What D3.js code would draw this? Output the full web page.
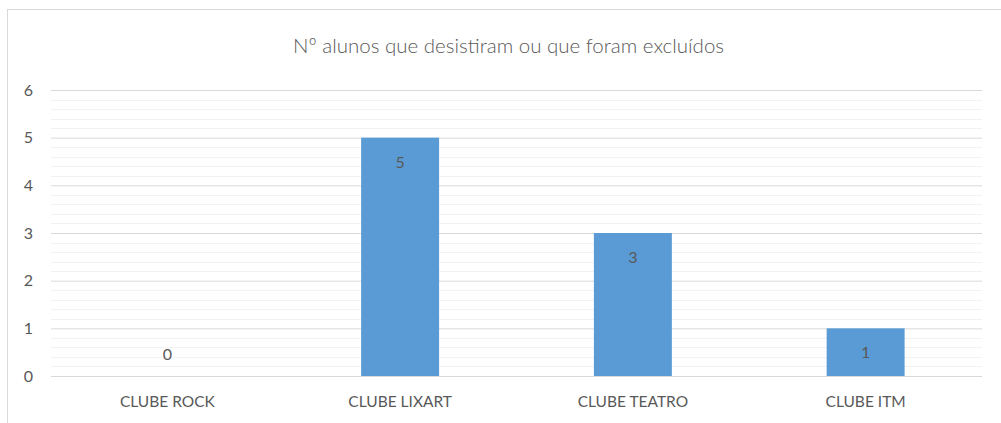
<!DOCTYPE html>
<html>
<head>
<meta charset="utf-8">
<script src="https://cdn.jsdelivr.net/npm/d3@7"></script>
<style>
  html, body { margin: 0; padding: 0; background: #fff; }
  svg text { font-family: Lato, "Open Sans", sans-serif; fill: #595959; }
</style>
</head>
<body>
<svg id="chart" width="1001" height="423"></svg>
<script>
const title = "Nº alunos que desistiram ou que foram excluídos";
const categories = ["CLUBE ROCK", "CLUBE LIXART", "CLUBE TEATRO", "CLUBE ITM"];
const values = [0, 5, 3, 1];
const yTicks = [0, 1, 2, 3, 4, 5, 6];

const width = 1001, height = 423;
const margin = { top: 90, right: 19, bottom: 47, left: 51 };

const svg = d3.select("#chart");

// outer chart border
svg.append("rect")
  .attr("x", 7.5).attr("y", 9.5)
  .attr("width", width).attr("height", height)
  .attr("fill", "none")
  .attr("stroke", "#d9d9d9");

const x = d3.scaleBand()
  .domain(categories)
  .range([margin.left, width - margin.right])
  .paddingInner(0.665)
  .paddingOuter(0.3325);

const y = d3.scaleLinear()
  .domain([0, 6])
  .range([height - margin.bottom, margin.top]);

// minor gridlines
const minor = d3.range(0, 6.001, 0.2).filter(v => Math.abs(v - Math.round(v)) > 1e-6);
svg.append("g")
  .selectAll("line")
  .data(minor)
  .join("line")
  .attr("x1", margin.left).attr("x2", width - margin.right)
  .attr("y1", d => Math.round(y(d)) + 0.5).attr("y2", d => Math.round(y(d)) + 0.5)
  .attr("stroke", "#f2f2f2");

// major gridlines + y labels
const yAxis = svg.append("g")
  .attr("transform", `translate(${margin.left},0)`)
  .call(d3.axisLeft(y).tickValues(yTicks).tickFormat(d3.format("d"))
    .tickSize(-(width - margin.left - margin.right)).tickPadding(18));
yAxis.select(".domain").remove();
yAxis.selectAll(".tick line").attr("stroke", "#d9d9d9");
yAxis.selectAll(".tick text")
  .attr("font-size", 16).attr("font-family", "Lato, sans-serif").attr("fill", "#595959");

// bars
svg.append("g")
  .selectAll("rect")
  .data(values)
  .join("rect")
  .attr("x", (d, i) => x(categories[i]))
  .attr("y", d => y(d))
  .attr("width", x.bandwidth())
  .attr("height", d => y(0) - y(d))
  .attr("fill", "#5b9bd5");

// data labels (inside end; zero sits just above the baseline)
svg.append("g")
  .selectAll("text")
  .data(values)
  .join("text")
  .attr("x", (d, i) => x(categories[i]) + x.bandwidth() / 2)
  .attr("y", d => d > 0 ? y(d) + 30 : y(d) - 16)
  .attr("text-anchor", "middle")
  .attr("font-size", 16)
  .attr("fill", "#404040")
  .text(d => d);

// x axis
const xAxis = svg.append("g")
  .attr("transform", `translate(0,${height - margin.bottom})`)
  .call(d3.axisBottom(x).tickSize(0));
xAxis.select(".domain").remove();
xAxis.selectAll(".tick text")
  .attr("y", 30.5).attr("dy", null)
  .attr("font-size", 15.5).attr("font-family", "Lato, sans-serif").attr("fill", "#595959");

// title
svg.append("text")
  .attr("x", 508.5)
  .attr("y", 53)
  .attr("text-anchor", "middle")
  .attr("font-size", 20.5)
  .attr("font-weight", 300)
  .text(title);
</script>
</body>
</html>
